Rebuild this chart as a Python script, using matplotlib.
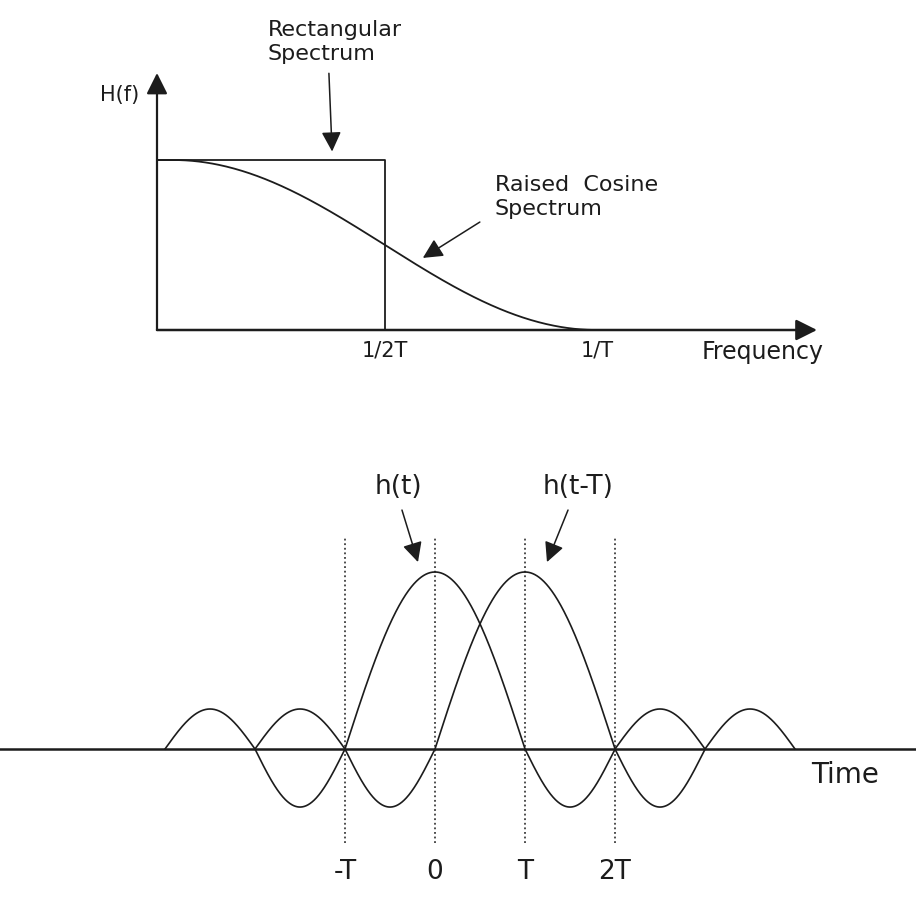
import numpy as np
import matplotlib
matplotlib.use("Agg")
import matplotlib.pyplot as plt

# spectrum: raised cosine vs ideal rectangular (f in units of 1/T)
rolloff = 0.93
rect_edge = 0.5
band_edge = (1 + rolloff) / 2
freq_ticks = [rect_edge, band_edge]
freq_labels = ["1/2T", "1/T"]

# pulse: lobe edges (t in units of T) and lobe heights of h(t)
lobe_edges = [-3, -2, -1, 1, 2, 3]
lobe_heights = [0.226, -0.328, 1.0, -0.328, 0.226]
pulse_shift = 1
time_ticks = [-1, 0, 1, 2]
time_labels = ["-T", "0", "T", "2T"]

INK = "#1c1c1c"
W, H = 916, 898


def px_axes(fig, x0, x1, y0, y1):
    # axes placed by pixel box (y measured from the top)
    return fig.add_axes([x0 / W, 1 - y1 / H, (x1 - x0) / W, (y1 - y0) / H])


def raised_cosine(f, beta):
    f1 = (1 - beta) / 2
    f2 = (1 + beta) / 2
    out = np.zeros_like(f)
    out[f <= f1] = 1.0
    mid = (f > f1) & (f < f2)
    out[mid] = 0.5 * (1 + np.cos(np.pi / beta * (f[mid] - f1)))
    return out


def pulse(t, shift=0):
    y = np.full_like(t, np.nan)
    for a, b, h in zip(lobe_edges[:-1], lobe_edges[1:], lobe_heights):
        m = (t >= a + shift) & (t <= b + shift)
        y[m] = h * np.sin(np.pi * (t[m] - a - shift) / (b - a))
    return y


fig = plt.figure(figsize=(W / 100, H / 100), dpi=100)
fig.patch.set_facecolor("white")

arrow = dict(arrowstyle="-|>", color=INK, lw=1.1, mutation_scale=30,
             shrinkA=0, shrinkB=0)

# ---- top: H(f)
ax = px_axes(fig, 157, 817, 73, 330)
ax.set_xlim(0, 660 / 456)
ax.set_ylim(0, 257 / 170)
ax.axis("off")

f = np.linspace(0, band_edge, 400)
ax.plot(f, raised_cosine(f, rolloff), color=INK, lw=1.3)
ax.plot([0, rect_edge, rect_edge], [1, 1, 0], color=INK, lw=1.3)

ax.annotate("", xy=(660 / 456, 0), xytext=(0, 0),
            arrowprops=dict(arrow, lw=1.8, mutation_scale=32))
ax.annotate("", xy=(0, 257 / 170), xytext=(0, 0),
            arrowprops=dict(arrow, lw=1.6, mutation_scale=32))

for x, lab in zip(freq_ticks, freq_labels):
    ax.text(x, -0.12, lab, ha="center", va="center", fontsize=15, color=INK)
ax.text(1.329, -0.13, "Frequency", ha="center", va="center", fontsize=17, color=INK)
ax.text(-0.081, 1.382, "H(f)", ha="center", va="center", fontsize=15, color=INK)

ax.text(0.243, 1.694, "Rectangular\nSpectrum", ha="left", va="center",
        fontsize=16, color=INK, linespacing=1.2)
ax.annotate("", xy=(0.384, 1.05), xytext=(0.377, 1.51), arrowprops=arrow,
            annotation_clip=False)

ax.text(0.741, 0.782, "Raised  Cosine\nSpectrum", ha="left", va="center",
        fontsize=16, color=INK, linespacing=1.2)
ax.annotate("", xy=(0.583, 0.424), xytext=(0.708, 0.635), arrowprops=arrow)

# ---- bottom: h(t) and h(t-T)
bx = px_axes(fig, 0, W, 440, H)
bx.set_xlim(-435 / 90, (W - 435) / 90)
bx.set_ylim(-(H - 749) / 177, (749 - 440) / 177)
bx.axis("off")

bx.axhline(0, color=INK, lw=1.8)
for tk in time_ticks:
    bx.plot([tk, tk], [-0.531, 1.203], color=INK, lw=1.1, ls=(0, (1.2, 1.8)))

t = np.linspace(-3.5, 4.5, 2000)
bx.plot(t, pulse(t), color=INK, lw=1.2)
bx.plot(t, pulse(t, pulse_shift), color=INK, lw=1.2)

for tk, lab in zip(time_ticks, time_labels):
    bx.text(tk, -0.695, lab, ha="center", va="center", fontsize=19, color=INK)
bx.text(4.556, -0.147, "Time", ha="center", va="center", fontsize=20, color=INK)

bx.text(-0.411, 1.48, "h(t)", ha="center", va="center", fontsize=19, color=INK)
bx.text(1.589, 1.48, "h(t-T)", ha="center", va="center", fontsize=19, color=INK)
bx.annotate("", xy=(-0.189, 1.056), xytext=(-0.367, 1.35), arrowprops=arrow)
bx.annotate("", xy=(1.244, 1.056), xytext=(1.478, 1.35), arrowprops=arrow)

fig.savefig("out.png", dpi=100, facecolor="white")
